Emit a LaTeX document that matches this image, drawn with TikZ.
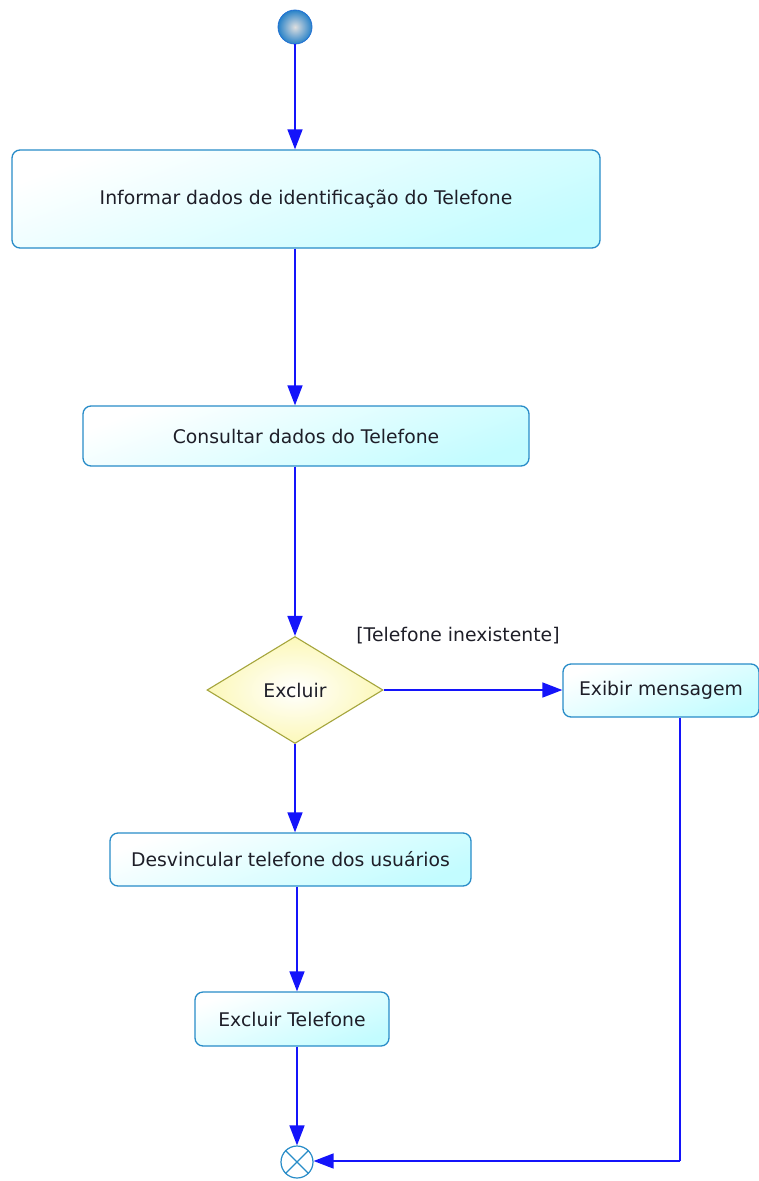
\documentclass[tikz,border=0pt]{standalone}
\usepackage{fontspec}
\setmainfont{DejaVu Sans}
\usetikzlibrary{arrows.meta,shapes.geometric}
\definecolor{flowblue}{RGB}{20,20,250}
\definecolor{boxedge}{RGB}{40,140,200}
\definecolor{boxfill}{RGB}{195,252,255}
\definecolor{diaedge}{RGB}{165,165,60}
\definecolor{diafill}{RGB}{252,248,185}
\definecolor{txt}{RGB}{30,30,40}
\tikzset{
  txtfont/.style={font=\fontsize{18.8}{21}\selectfont},
  act/.style={draw=boxedge, line width=1.3pt, rounded corners=8pt,
    top color=white, bottom color=boxfill, shading angle=20,
    inner sep=0pt, txtfont, text=txt},
  decision/.style={diamond, draw=diaedge, line width=1.1pt, inner sep=0pt,
    inner color=white, outer color=diafill, txtfont, text=txt},
  flow/.style={draw=flowblue, line width=1.6pt,
    -{Triangle[length=20pt,width=15pt]}},
  plainflow/.style={draw=flowblue, line width=1.6pt},
  startnode/.style={circle, minimum size=34pt, inner sep=0pt,
    draw=boxedge!80!blue, line width=0.8pt, inner color=gray!25, outer color={rgb,255:red,40;green,130;blue,200}},
  endnode/.style={circle, minimum size=32pt, inner sep=0pt, draw=boxedge, line width=1.2pt, fill=white},
  lbl/.style={txtfont, text=txt, inner sep=0pt}
}
\begin{document}
\begin{tikzpicture}[x=1pt,y=-1pt]
\useasboundingbox (0,0) rectangle (759,1181);
\fill[white] (0,0) rectangle (759,1181);

\node[startnode] (s) at (295,27) {};
\node[act, minimum width=588pt, minimum height=98pt] (a1) at (306,199) {Informar dados de identificação do Telefone};
\node[act, minimum width=446pt, minimum height=60pt] (a2) at (306,436) {Consultar dados do Telefone};
\node[decision, minimum width=176pt, minimum height=107pt] (d) at (295,690) {Excluir};
\node[lbl] (g) at (458,636) {[Telefone inexistente]};
\node[act, minimum width=196pt, minimum height=53pt] (m) at (661,690.5) {Exibir mensagem};
\node[act, minimum width=361pt, minimum height=53pt] (a3) at (290.5,859.5) {Desvincular telefone dos usuários};
\node[act, minimum width=194pt, minimum height=54pt] (a4) at (292,1019) {Excluir Telefone};
\node[endnode] (e) at (297,1162) {};
\draw[boxedge, line width=1.2pt] (e.north west) -- (e.south east) (e.north east) -- (e.south west);
\coordinate (c) at (680,1161);

\draw[flow] (s) -- (s |- a1.north);
\draw[flow] (a1.south -| s) -- (a2.north -| s);
\draw[flow] (a2.south -| d) -- (d.north);
\draw[flow] (d.east) -- (m.west |- d.east);
\draw[flow] (d.south) -- (a3.north -| d);
\draw[flow] (a3.south -| e) -- (a4.north -| e);
\draw[flow] (a4.south -| e) -- (e.north);
\draw[plainflow] (m.south -| c) -- (c);
\draw[flow] (c) -- (c -| e.east);
\end{tikzpicture}
\end{document}
